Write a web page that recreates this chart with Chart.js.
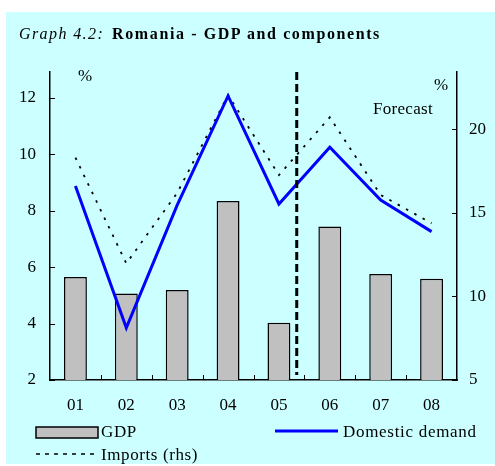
<!DOCTYPE html>
<html>
<head>
<meta charset="utf-8">
<script src="https://cdn.jsdelivr.net/npm/chart.js@4.4.1/dist/chart.umd.min.js"></script>
<style>
  body { margin: 0; background: #fff; }
  #panel { position: absolute; left: 6px; top: 12px; width: 489px; height: 452px; background: #ccffff; }
  #wrap { position: absolute; left: 0; top: 0; width: 495px; height: 466px; }
  .t { position: absolute; font-family: "Liberation Serif", "Times New Roman", serif; color: #000; white-space: nowrap; line-height: 17px; font-size: 17px; letter-spacing: 0.6px; }
  svg { position: absolute; left: 0; top: 0; }
</style>
</head>
<body>
<div id="panel"></div>
<div id="wrap"><canvas id="chart" width="495" height="466"></canvas></div>

<div class="t" style="left:19px;top:26px;font-size:16px;line-height:16px;letter-spacing:0;"><i style="letter-spacing:1.4px;">Graph 4.2:</i>&nbsp; <b style="letter-spacing:1.6px;">Romania - GDP and components</b></div>
<div class="t" style="left:78px;top:67px;">%</div>
<div class="t" style="left:434px;top:76px;">%</div>
<div class="t" style="left:373px;top:100px;letter-spacing:0.3px;">Forecast</div>

<svg width="495" height="466">
  <rect x="36" y="427" width="62" height="11" fill="#c0c0c0" stroke="#000" stroke-width="1.5"/>
  <line x1="275" y1="431" x2="338" y2="431" stroke="#0000ff" stroke-width="3"/>
  <line x1="36" y1="454" x2="97" y2="454" stroke="#000" stroke-width="1.5" stroke-dasharray="4,5"/>
</svg>
<div class="t" style="left:101px;top:423px;">GDP</div>
<div class="t" style="left:343px;top:423px;letter-spacing:0.7px;">Domestic demand</div>
<div class="t" style="left:101px;top:446px;">Imports (rhs)</div>

<script>
// values
const years = ['01', '02', '03', '04', '05', '06', '07', '08'];
const gdp = [5.65, 5.07, 5.19, 8.35, 4.03, 7.44, 5.76, 5.59];
const domesticDemand = [8.88, 3.85, 8.2, 12.07, 8.24, 10.25, 8.38, 7.26];
const imports = [18.29, 11.97, 16.18, 22.03, 17.25, 20.7, 16.06, 14.37];
const leftTicks = [2, 4, 6, 8, 10, 12];
const rightTicks = [5, 10, 15, 20];
const forecastAt = 4.35; // between 05 and 06

const serif = '"Liberation Serif", "Times New Roman", serif';

// forecast divider + inward tick marks, drawn from the scales
const extras = {
    id: 'extras',
    afterDatasetsDraw(chart) {
        const { ctx, chartArea, scales } = chart;
        ctx.save();
        ctx.strokeStyle = '#000';

        // dashed forecast line
        const fx = scales.x.getPixelForValue(forecastAt);
        ctx.lineWidth = 3;
        ctx.setLineDash([8, 4]);
        ctx.beginPath();
        ctx.moveTo(fx, chartArea.top);
        ctx.lineTo(fx, chartArea.bottom - 5);
        ctx.stroke();

        // inside ticks
        ctx.setLineDash([]);
        ctx.lineWidth = 1;
        ctx.beginPath();
        leftTicks.forEach(v => {
            const y = Math.round(scales.y.getPixelForValue(v)) + 0.5;
            ctx.moveTo(chartArea.left, y);
            ctx.lineTo(chartArea.left + 5, y);
        });
        rightTicks.forEach(v => {
            const y = Math.round(scales.y1.getPixelForValue(v)) + 0.5;
            ctx.moveTo(chartArea.right, y);
            ctx.lineTo(chartArea.right - 5, y);
        });
        for (let i = 0; i < years.length - 1; i++) {
            const x = Math.round(scales.x.getPixelForValue(i + 0.5)) + 0.5;
            ctx.moveTo(x, chartArea.bottom);
            ctx.lineTo(x, chartArea.bottom - 5);
        }
        ctx.stroke();
        ctx.restore();
    }
};

const axisFont = { family: serif, size: 17 };

new Chart(document.getElementById('chart'), {
    type: 'bar',
    data: {
        labels: years,
        datasets: [
            {
                label: 'Domestic demand',
                type: 'line',
                data: domesticDemand,
                yAxisID: 'y',
                borderColor: '#0000ff',
                borderWidth: 3,
                pointRadius: 0,
                tension: 0,
                order: 1
            },
            {
                label: 'Imports (rhs)',
                type: 'line',
                data: imports,
                yAxisID: 'y1',
                borderColor: '#000',
                borderWidth: 1.8,
                borderDash: [2.5, 7],
                pointRadius: 0,
                tension: 0,
                order: 2
            },
            {
                label: 'GDP',
                data: gdp,
                yAxisID: 'y',
                backgroundColor: '#c0c0c0',
                borderColor: '#000',
                borderWidth: 1.5,
                categoryPercentage: 1,
                barPercentage: 0.45,
                order: 3
            }
        ]
    },
    options: {
        responsive: false,
        animation: false,
        layout: { padding: { left: 0, right: 0, top: 72, bottom: 46 } },
        plugins: { legend: { display: false }, tooltip: { enabled: false } },
        scales: {
            x: {
                offset: true,
                grid: { display: false, drawTicks: false },
                border: { color: '#000', width: 1.5 },
                ticks: { font: axisFont, color: '#000', padding: 15, maxRotation: 0 },
                afterFit: s => { s.height = 40; }
            },
            y: {
                position: 'left',
                min: 2,
                max: 12.92,
                afterBuildTicks: s => { s.ticks = leftTicks.map(v => ({ value: v })); },
                grid: { display: false, drawTicks: false },
                border: { color: '#000', width: 1.5 },
                ticks: { font: axisFont, color: '#000', padding: 14 },
                afterFit: s => { s.width = 50; }
            },
            y1: {
                position: 'right',
                min: 5,
                max: 23.41,
                afterBuildTicks: s => { s.ticks = rightTicks.map(v => ({ value: v })); },
                grid: { display: false, drawTicks: false },
                border: { color: '#000', width: 1.5 },
                ticks: { font: axisFont, color: '#000', padding: 12 },
                afterFit: s => { s.width = 38; }
            }
        }
    },
    plugins: [extras]
});
</script>
</body>
</html>
